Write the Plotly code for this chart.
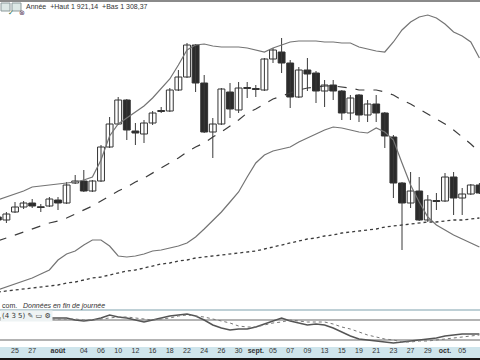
import plotly.graph_objects as go

# ---------------- data ----------------
idx = list(range(57))

opens = [1573,1567,1583,1593,1601,1593,1595,1607,1601,1641,
         1645,1625,1645,1713,1759,1807,1745,1739,1761,1786,
         1785,1827,1853,1917,1841,1743,1759,1823,1787,1832,
         1830,1827,1889,1903,1881,1813,1867,1861,1825,1837,
         1825,1781,1817,1777,1799,1781,1733,1641,1601,1625,
         1567,1606,1605,1653,1611,1619,1637]
highs = [1577,1583,1603,1605,1609,1599,1613,1613,1643,1657,
         1667,1647,1717,1773,1813,1809,1761,1767,1785,1793,
         1831,1867,1921,1919,1857,1771,1831,1841,1843,1843,
         1837,1891,1911,1931,1887,1873,1891,1865,1847,1847,
         1827,1817,1819,1807,1817,1783,1737,1643,1663,1653,
         1617,1621,1661,1663,1631,1639,1641]
lows = [1563,1561,1581,1589,1591,1583,1593,1587,1599,1639,
        1623,1623,1643,1711,1757,1727,1717,1721,1757,1781,
        1783,1825,1851,1823,1741,1691,1757,1771,1781,1811,
        1813,1825,1881,1861,1791,1811,1825,1801,1793,1807,
        1767,1767,1763,1763,1763,1711,1611,1507,1591,1565,
        1563,1587,1603,1577,1577,1617,1619]
closes = [1567,1579,1593,1601,1595,1592,1609,1601,1637,1645,
          1625,1645,1713,1759,1807,1747,1741,1761,1781,1784,
          1827,1853,1917,1841,1743,1759,1829,1789,1831,1830,
          1828,1889,1907,1881,1813,1867,1859,1825,1837,1825,
          1781,1811,1777,1799,1781,1735,1641,1601,1625,1567,
          1607,1604,1653,1611,1619,1637,1621]

upper_band = [1607,1613,1619,1625,1633,1635,1637,1639,1641,1643,
              1647,1653,1687,1735,1759,1771,1783,1795,1811,1829,
              1849,1877,1907,1917,1919,1915,1913,1913,1913,1911,
              1907,1903,1911,1917,1923,1925,1925,1925,1923,1923,
              1921,1921,1913,1909,1905,1903,1923,1947,1963,1973,
              1977,1971,1959,1943,1935,1923,1891]
lower_band = [1427,1433,1439,1445,1451,1459,1467,1487,1499,1505,
              1517,1527,1527,1515,1495,1493,1495,1499,1505,1507,
              1511,1515,1521,1533,1549,1565,1583,1603,1623,1653,
              1681,1697,1705,1709,1713,1723,1731,1739,1747,1753,
              1751,1747,1743,1741,1751,1743,1727,1681,1637,1603,
              1573,1557,1547,1537,1529,1521,1513]
middle_band = [1525,1531,1537,1543,1549,1555,1561,1565,1571,1579,
               1587,1595,1605,1615,1625,1633,1643,1651,1661,1671,
               1681,1691,1703,1713,1721,1733,1743,1755,1767,1781,
               1789,1799,1809,1815,1821,1827,1831,1833,1835,1835,
               1833,1831,1827,1827,1827,1823,1817,1807,1799,1789,
               1779,1769,1759,1747,1733,1719,1703]
long_ma = [1423,1425,1427,1429,1431,1433,1435,1437,1441,1443,
           1447,1451,1453,1457,1461,1465,1467,1471,1475,1479,
           1481,1485,1487,1491,1493,1495,1497,1499,1501,1503,
           1505,1509,1513,1517,1521,1525,1529,1531,1535,1537,
           1541,1543,1545,1547,1549,1553,1555,1557,1559,1561,
           1563,1563,1565,1567,1567,1569,1571]

osc_line = [48,48,48,48,48,48,48,48,48,40,
            36,40,48,60,52,48,40,32,40,48,
            56,60,64,56,40,20,8,0,4,4,
            12,24,36,48,36,28,20,24,20,8,
            -8,-24,-36,-40,-44,-48,-52,-48,-44,-40,
            -36,-32,-24,-20,-16,-16,-16]
osc_signal = [44,44,44,44,44,44,44,44,44,44,
              40,40,44,48,52,52,48,44,40,44,
              48,56,60,56,52,44,36,28,16,12,
              12,20,28,32,40,36,32,32,32,24,
              12,4,-8,-20,-28,-36,-40,-48,-48,-44,
              -44,-40,-36,-32,-28,-24,-20]
osc_levels = [40, -40]

tick_pos = [2,4,7,10,12,14,16,18,20,22,24,26,28,30,32,34,36,38,40,42,44,46,48,50,52,54,56]
tick_text = ["25","27","<b>août</b>","04","06","10","12","16","18","22","24","26","30",
             "<b>sept.</b>","05","07","09","13","15","19","21","23","27","29","<b>oct.</b>","05","07"]

# ---------------- figure ----------------
H = 360.0
def py(px):
    return 1 - px / H

FONT = "Liberation Sans, Arial, sans-serif"
XR = [0.256, 56.07]
UP_FILL, DOWN_FILL = "#ffffff", "#2b2b2b"

fig = go.Figure()

# wicks (high-low), drawn behind the bodies
wx, wy = [], []
for i, h, l in zip(idx, highs, lows):
    wx += [i, i, None]
    wy += [l, h, None]
fig.add_trace(go.Scatter(x=wx, y=wy, mode="lines", line=dict(color="#3a3a3a", width=1),
                         showlegend=False, hoverinfo="skip"))

# bodies (open-close)
body_base = [min(o, c) for o, c in zip(opens, closes)]
body_len = [max(abs(c - o), 1.5) for o, c in zip(opens, closes)]
body_fill = [UP_FILL if c > o else DOWN_FILL for o, c in zip(opens, closes)]
fig.add_trace(go.Bar(x=idx, y=body_len, base=body_base, width=0.8,
                     marker=dict(color=body_fill, line=dict(color="#333333", width=1)),
                     showlegend=False))

fig.add_trace(go.Scatter(x=idx, y=upper_band, mode="lines",
                         line=dict(color="#747474", width=1.2), showlegend=False))
fig.add_trace(go.Scatter(x=idx, y=lower_band, mode="lines",
                         line=dict(color="#747474", width=1.2), showlegend=False))
fig.add_trace(go.Scatter(x=idx, y=middle_band, mode="lines",
                         line=dict(color="#3c3c3c", width=1.2, dash="dash"), showlegend=False))
fig.add_trace(go.Scatter(x=idx, y=long_ma, mode="lines",
                         line=dict(color="#3c3c3c", width=1.3, dash="dot"), showlegend=False))

fig.add_trace(go.Scatter(x=idx, y=osc_line, mode="lines", xaxis="x2", yaxis="y2",
                         line=dict(color="#555555", width=1.5), showlegend=False))
fig.add_trace(go.Scatter(x=idx, y=osc_signal, mode="lines", xaxis="x2", yaxis="y2",
                         line=dict(color="#777777", width=1, dash="dot"), showlegend=False))

shapes = []
# top frame line
shapes.append(dict(type="line", xref="paper", yref="paper", x0=0, x1=1, y0=py(1), y1=py(1),
                   line=dict(color="#8a8a8a", width=2)))
# header icon boxes
for x0, x1 in [(1, 10), (12, 21)]:
    shapes.append(dict(type="rect", xref="paper", yref="paper", x0=x0/480, x1=x1/480,
                       y0=py(11), y1=py(3), fillcolor="#dde8e6", line=dict(color="#8c9a9c", width=1)))
# oscillator panel frame
shapes.append(dict(type="line", xref="paper", yref="paper", x0=0, x1=1, y0=py(310), y1=py(310),
                   line=dict(color="#a8c0c8", width=1.5)))
for lv in osc_levels:
    shapes.append(dict(type="line", xref="paper", yref="y2", x0=0, x1=1, y0=lv, y1=lv,
                       line=dict(color="#9a9a9a", width=1.5), layer="below"))
# date strip
shapes.append(dict(type="rect", xref="paper", yref="paper", x0=0, x1=1, y0=py(358), y1=py(347),
                   fillcolor="#cfe5ec", line=dict(width=0), layer="below"))
shapes.append(dict(type="rect", xref="paper", yref="paper", x0=0, x1=1, y0=0, y1=py(358),
                   fillcolor="#151515", line=dict(width=0)))

annotations = [
    dict(text="✓", x=5.5/480, y=py(7), xref="paper", yref="paper", showarrow=False,
         font=dict(size=7, color="#2f6f3f", family="DejaVu Sans")),
    dict(text="⊗", x=16.5/480, y=py(7), xref="paper", yref="paper", showarrow=False,
         font=dict(size=7, color="#5a3b5a", family="DejaVu Sans")),
    dict(text="Année  +Haut 1 921,14  +Bas 1 308,37", x=24/480, y=py(6), xref="paper", yref="paper",
         xanchor="left", yanchor="middle", showarrow=False, font=dict(size=7, color="#333333", family=FONT)),
    dict(text="com.   <i>Données en fin de journée</i>", x=0, y=py(306), xref="paper", yref="paper",
         xanchor="left", yanchor="middle", showarrow=False, font=dict(size=7, color="#333333", family=FONT)),
    dict(text="(4 3 5) ✎ ▭ ⚙", x=0, y=py(315.5), xref="paper", yref="paper",
         xanchor="left", yanchor="middle", showarrow=False, bgcolor="#eef3f4",
         font=dict(size=7, color="#333333", family="DejaVu Sans")),
]

fig.update_layout(
    width=480, height=360, margin=dict(l=0, r=0, t=0, b=0),
    paper_bgcolor="white", plot_bgcolor="white", barmode="overlay",
    xaxis=dict(domain=[0, 1], range=XR, showticklabels=False, showgrid=False, zeroline=False,
               anchor="y"),
    yaxis=dict(domain=[py(300), py(10)], range=[1407, 1987], showticklabels=False,
               showgrid=False, zeroline=False),
    xaxis2=dict(domain=[0, 1], range=XR, anchor="y2", showgrid=False, zeroline=False,
                tickmode="array", tickvals=tick_pos, ticktext=tick_text, ticks="",
                tickfont=dict(size=7, color="#333333", family=FONT)),
    yaxis2=dict(domain=[py(345), py(309)], range=[-60, 84], showticklabels=False,
                showgrid=False, zeroline=False),
    shapes=shapes, annotations=annotations,
)

fig.write_html("out.html")
